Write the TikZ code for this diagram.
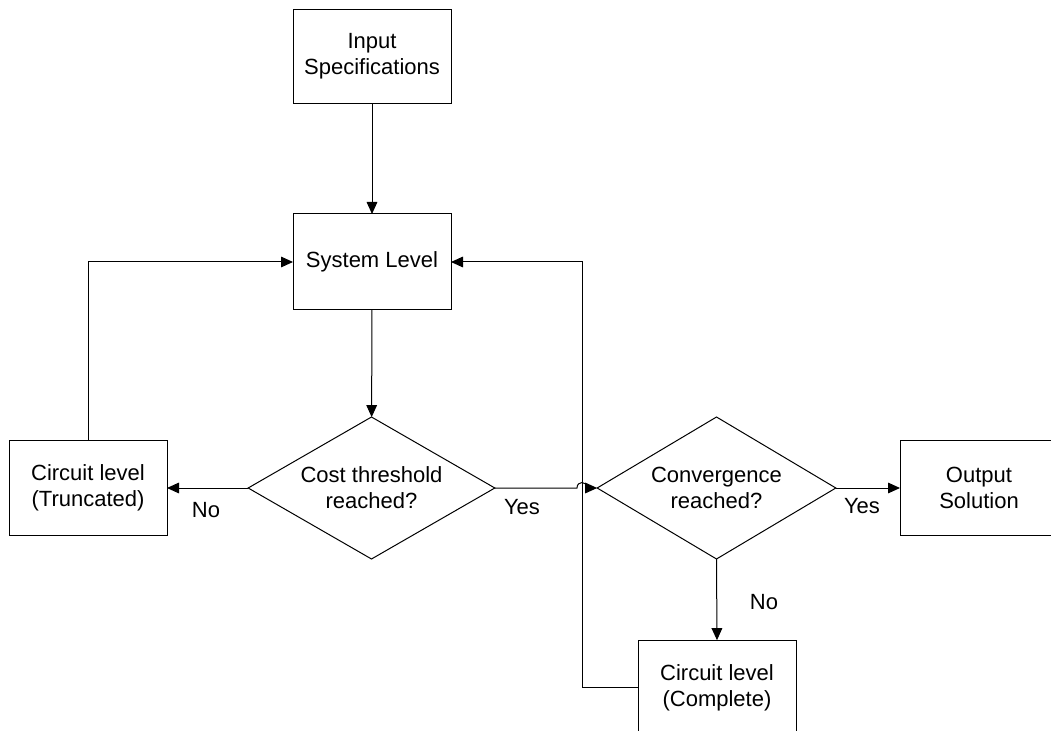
\documentclass[tikz,border=0pt]{standalone}
\usepackage{fontspec}
\setmainfont{Liberation Sans}
\usetikzlibrary{shapes.geometric,arrows.meta}

\tikzset{
  every node/.style={font=\fontsize{16.5}{19.5}\selectfont, align=center, outer sep=0pt},
  block/.style={draw, line width=0.75pt, rectangle, minimum width=118.5pt, minimum height=71pt, inner sep=0pt},
  decision/.style={draw, line width=0.75pt, diamond, aspect=1.7, inner sep=0pt, minimum width=184pt, minimum height=106.5pt},
  flow/.style={line width=0.75pt, -{Triangle[length=9pt,width=8pt]}},
  wire/.style={line width=0.75pt},
  tag/.style={inner sep=0pt}
}

\begin{document}
\begin{tikzpicture}[x=0.75pt, y=-0.75pt]
  \useasboundingbox (0,0) rectangle (1051,731);

  % blocks
  \node[block] (inp) at (372,56.5) {Input\\Specifications};
  \node[block, minimum height=72pt] (sys) at (372,262) {System Level};
  \node[block] (trunc) at (88,488) {Circuit level\\(Truncated)};
  \node[block] (out) at (979,488) {Output\\Solution};
  \node[block] (comp) at (717,687.5) {Circuit level\\(Complete)};

  % decisions
  \node[decision, minimum width=185pt] (cost) at (371.5,488) {Cost threshold\\reached?};
  \node[decision, minimum width=179pt] (conv) at (716.5,488) {Convergence\\reached?};

  % routing points
  \coordinate (jmp) at (582,488);
  \coordinate (ret) at (582,262);

  % main flow
  \draw[flow] (inp) -- (sys);
  \draw[flow] (sys) -- (cost);
  \draw[flow] (cost.west) -- (trunc.east);
  \draw[flow] (cost.east) -- ([xshift=-3.75pt]jmp)
     .. controls ([xshift=-3.75pt,yshift=5.5pt]jmp) and ([xshift=3.75pt,yshift=5.5pt]jmp) .. ([xshift=3.75pt]jmp)
     -- (conv.west);
  \draw[flow] (conv.east) -- (out.west);
  \draw[flow] (conv.south) -- (comp.north);

  % feedback loops
  \draw[flow] (trunc.north) |- (sys.west);
  \draw[flow] (comp.west) -| (ret) -- (sys.east);

  % branch labels
  \node[tag] (lno1) at (206,510) {No};
  \node[tag] (lyes1) at (522,507) {Yes};
  \node[tag] (lyes2) at (862,506) {Yes};
  \node[tag] (lno2) at (764,602) {No};
\end{tikzpicture}
\end{document}
